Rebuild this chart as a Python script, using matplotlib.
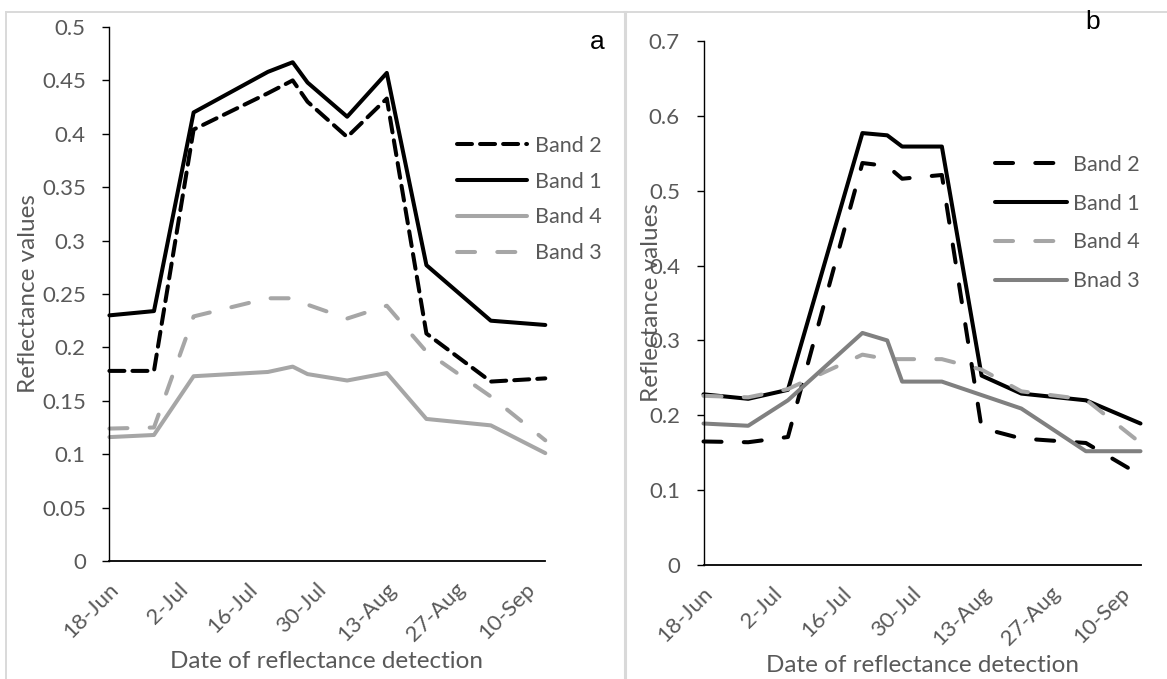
import matplotlib
matplotlib.use('Agg')
import numpy as np
import pandas as pd
import matplotlib.pyplot as plt
from matplotlib.lines import Line2D
from matplotlib.ticker import MultipleLocator, FuncFormatter
from matplotlib.transforms import ScaledTranslation

plt.rcParams['font.family'] = ['Lato', 'DejaVu Sans']
plt.rcParams['lines.scale_dashes'] = False

# acquisition dates shared by both panels
dates = ['2019-06-18', '2019-06-27', '2019-07-05', '2019-07-20', '2019-07-25',
         '2019-07-28', '2019-08-05', '2019-08-13', '2019-08-21', '2019-09-03',
         '2019-09-14']
tick_dates = ['2019-06-18', '2019-07-02', '2019-07-16', '2019-07-30',
              '2019-08-13', '2019-08-27', '2019-09-10']
tick_labels = ['18-Jun', '2-Jul', '16-Jul', '30-Jul', '13-Aug', '27-Aug', '10-Sep']

# panel a
a_band2 = [0.178, 0.178, 0.404, 0.438, 0.450, 0.430, 0.397, 0.433, 0.213, 0.168, 0.171]
a_band1 = [0.230, 0.234, 0.420, 0.458, 0.467, 0.448, 0.416, 0.457, 0.277, 0.225, 0.221]
a_band4 = [0.116, 0.118, 0.173, 0.177, 0.182, 0.175, 0.169, 0.176, 0.133, 0.127, 0.101]
a_band3 = [0.124, 0.125, 0.229, 0.246, 0.246, 0.240, 0.227, 0.239, 0.196, 0.154, 0.113]

# panel b
b_band2 = [0.165, 0.164, 0.171, 0.537, 0.533, 0.516, 0.521, 0.183, 0.169, 0.163, 0.120]
b_band1 = [0.228, 0.222, 0.234, 0.577, 0.574, 0.559, 0.559, 0.253, 0.229, 0.220, 0.189]
b_band4 = [0.226, 0.224, 0.235, 0.281, 0.275, 0.275, 0.275, 0.261, 0.232, 0.221, 0.163]
b_band3 = [0.189, 0.186, 0.220, 0.310, 0.300, 0.245, 0.245, 0.227, 0.209, 0.152, 0.152]

TEXT = '#595959'
BLACK = '#000000'
LIGHT = '#A6A6A6'
MID = '#808080'
BORDER = '#D9D9D9'
FS_TICK = 16
FS_LEG = 15.5
FS_TITLE = 17.5
short_dash = (0, (10.8, 5.8))
long_dash = (0, (13, 16))

W, H = 1167, 679
x = pd.to_datetime(dates)
xt = pd.to_datetime(tick_dates)

fig = plt.figure(figsize=(W / 100, H / 100), dpi=100)
ax_a = fig.add_axes([109.4 / W, 1 - 561 / H, 435.9 / W, 534 / H])
ax_b = fig.add_axes([703.5 / W, 1 - 565 / H, 437 / W, 524 / H])


def line(ax, y, color, ls, label):
    ax.plot(x, y, color=color, lw=2.9, linestyle=ls, label=label,
            solid_capstyle='round', dash_capstyle='round',
            solid_joinstyle='round', dash_joinstyle='round', clip_on=False)


def style(ax, ymax, step):
    ax.set_xlim(x[0], x[-1])
    ax.set_ylim(0, ymax)
    ax.yaxis.set_major_locator(MultipleLocator(step))
    ax.yaxis.set_major_formatter(FuncFormatter(lambda v, p: '%g' % round(v, 3)))
    for s in ['top', 'right']:
        ax.spines[s].set_visible(False)
    ax.spines['left'].set_linewidth(1.0)
    ax.spines['bottom'].set_linewidth(1.3)
    ax.tick_params(axis='y', direction='out', length=5, width=1,
                   labelsize=FS_TICK, labelcolor=TEXT, pad=12)
    ax.tick_params(axis='x', length=0, labelsize=FS_TICK, labelcolor=TEXT, pad=16)
    ax.set_xticks(xt)
    ax.set_xticklabels(tick_labels, rotation=45, ha='right', va='center',
                       rotation_mode='anchor')
    # nudge the slanted date labels a little right and down
    shift = ScaledTranslation(6 / 100, -3 / 100, fig.dpi_scale_trans)
    for lab in ax.get_xticklabels():
        lab.set_transform(lab.get_transform() + shift)


line(ax_a, a_band2, BLACK, short_dash, 'Band 2')
line(ax_a, a_band1, BLACK, '-', 'Band 1')
line(ax_a, a_band4, LIGHT, '-', 'Band 4')
line(ax_a, a_band3, LIGHT, long_dash, 'Band 3')
style(ax_a, 0.5, 0.05)

line(ax_b, b_band2, BLACK, long_dash, 'Band 2')
line(ax_b, b_band1, BLACK, '-', 'Band 1')
line(ax_b, b_band4, LIGHT, long_dash, 'Band 4')
line(ax_b, b_band3, MID, '-', 'Bnad 3')
style(ax_b, 0.7, 0.1)

ax_a.legend(loc='upper left', bbox_to_anchor=(457 / W, 1 - 136 / H),
            bbox_transform=fig.transFigure, frameon=False, fontsize=FS_LEG,
            labelcolor=TEXT, borderpad=0, borderaxespad=0,
            handlelength=3.26, handletextpad=0.37, labelspacing=0.73)
ax_b.legend(loc='upper left', bbox_to_anchor=(995 / W, 1 - 155 / H),
            bbox_transform=fig.transFigure, frameon=False, fontsize=FS_LEG,
            labelcolor=TEXT, borderpad=0, borderaxespad=0,
            handlelength=3.35, handletextpad=0.28, labelspacing=0.87)

# axis titles
fig.text(29 / W, 1 - 294 / H, 'Reflectance values', rotation=90, ha='center',
         va='center', fontsize=FS_TITLE, color=TEXT)
fig.text(651 / W, 1 - 303 / H, 'Reflectance values', rotation=90, ha='center',
         va='center', fontsize=FS_TITLE, color=TEXT)
fig.text(327 / W, 1 - 662 / H, 'Date of reflectance detection', ha='center',
         va='center', fontsize=FS_TITLE, color=TEXT)
fig.text(922 / W, 1 - 665 / H, 'Date of reflectance detection', ha='center',
         va='center', fontsize=FS_TITLE, color=TEXT)

# panel letters
fig.text(597 / W, 1 - 42 / H, 'a', ha='center', va='center', fontsize=19,
         family='Liberation Sans', color='black')
fig.text(1093 / W, 1 - 22 / H, 'b', ha='center', va='center', fontsize=19,
         family='Liberation Sans', color='black')

# chart area borders
for xs, ys, lw in [([6, W], [12, 12], 1.4), ([6, 6], [12, H], 1.4),
                   ([625, 625], [12, H], 2.2)]:
    fig.add_artist(Line2D([v / W for v in xs], [1 - v / H for v in ys],
                          transform=fig.transFigure, color=BORDER, lw=lw))

fig.savefig('out.png', dpi=100)
